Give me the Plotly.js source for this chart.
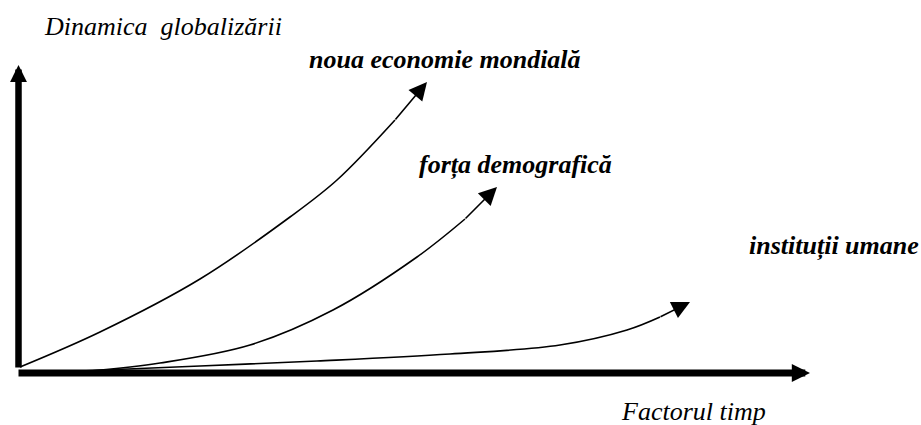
<!DOCTYPE html>
<html>
<head>
<meta charset="utf-8">
<script src="https://cdn.plot.ly/plotly-3.0.1.min.js"></script>
<style>html,body{margin:0;padding:0;background:#fff;}#chart{width:921px;height:425px;}</style>
</head>
<body>
<div id="chart"></div>
<script>
// Diagram coordinates: origin at the intersection of the two axes, x to the right, y upwards.
var curveNames = ["noua economie mondială", "forța demografică", "instituții umane"];

var economieX = [2, 82, 182, 272, 319, 377];
var economieY = [6, 41, 94, 156, 193, 253];
var economieTip = [409, 291];

var demograficaX = [72, 142, 232, 315, 399, 447];
var demograficaY = [2, 10, 28, 63, 116, 154];
var demograficaTip = [479, 186];

var institutiiX = [62, 182, 299, 432, 542, 609, 642];
var institutiiY = [2, 7, 12, 19, 28, 43, 56];
var institutiiTip = [672, 71];

var axisOrigin = [0, 0];
var yAxisTop = [0.5, 308];
var xAxisEnd = [792, 0];

var yAxisLabel = "Dinamica\u00a0 globalizării";
var xAxisLabel = "Factorul timp";

var labelPos = {
  y: [24, 347],
  x: [601, -38],
  c0: [289, 314],
  c1: [399, 208],
  c2: [729, 127]
};

var FONT = "Liberation Serif, Times New Roman, serif";
var curves = [
  {x: economieX, y: economieY, tip: economieTip},
  {x: demograficaX, y: demograficaY, tip: demograficaTip},
  {x: institutiiX, y: institutiiY, tip: institutiiTip}
];

var traces = curves.map(function (c, i) {
  return {
    type: "scatter", mode: "lines", name: curveNames[i],
    x: c.x, y: c.y,
    line: {color: "#000", width: 1.6, shape: "spline", smoothing: 1},
    hoverinfo: "skip", showlegend: false
  };
});

var annotations = [];
// curve arrow heads
curves.forEach(function (c) {
  var n = c.x.length - 1;
  annotations.push({
    x: c.tip[0], y: c.tip[1], ax: c.x[n], ay: c.y[n],
    xref: "x", yref: "y", axref: "x", ayref: "y",
    text: "", font: {size: 1}, borderpad: 0,
    showarrow: true, arrowhead: 2, arrowsize: 2.25, arrowwidth: 1.6,
    arrowcolor: "#000", standoff: 0, startstandoff: 0
  });
});
// axes as thick arrows
annotations.push({
  x: yAxisTop[0], y: yAxisTop[1], ax: yAxisTop[0], ay: axisOrigin[1] + 5,
  xref: "x", yref: "y", axref: "x", ayref: "y",
  text: "", font: {size: 1}, borderpad: 0,
  showarrow: true, arrowhead: 2, arrowsize: 0.52, arrowwidth: 6.5,
  arrowcolor: "#000", standoff: 0, startstandoff: 0
});
annotations.push({
  x: xAxisEnd[0], y: xAxisEnd[1], ax: axisOrigin[0], ay: axisOrigin[1],
  xref: "x", yref: "y", axref: "x", ayref: "y",
  text: "", font: {size: 1}, borderpad: 0,
  showarrow: true, arrowhead: 2, arrowsize: 0.52, arrowwidth: 7,
  arrowcolor: "#000", standoff: 0, startstandoff: 0
});

function label(txt, pos, bold) {
  return {
    x: pos[0], y: pos[1], xref: "x", yref: "y", xanchor: "left", yanchor: "middle",
    text: bold ? "<b><i>" + txt + "</i></b>" : "<i>" + txt + "</i>",
    showarrow: false, font: {family: FONT, size: 26, color: "#000"}
  };
}
annotations.push(label(yAxisLabel, labelPos.y, false));
annotations.push(label(xAxisLabel, labelPos.x, false));
annotations.push(label(curveNames[0], labelPos.c0, true));
annotations.push(label(curveNames[1], labelPos.c1, true));
annotations.push(label(curveNames[2], labelPos.c2, true));

var layout = {
  width: 921, height: 425,
  margin: {l: 0, r: 0, t: 0, b: 0, pad: 0},
  paper_bgcolor: "#fff", plot_bgcolor: "#fff",
  xaxis: {range: [-18, 903], visible: false, fixedrange: true},
  yaxis: {range: [-52, 373], visible: false, fixedrange: true},
  showlegend: false,
  annotations: annotations
};

Plotly.newPlot("chart", traces, layout, {displayModeBar: false, staticPlot: true});
</script>
</body>
</html>
